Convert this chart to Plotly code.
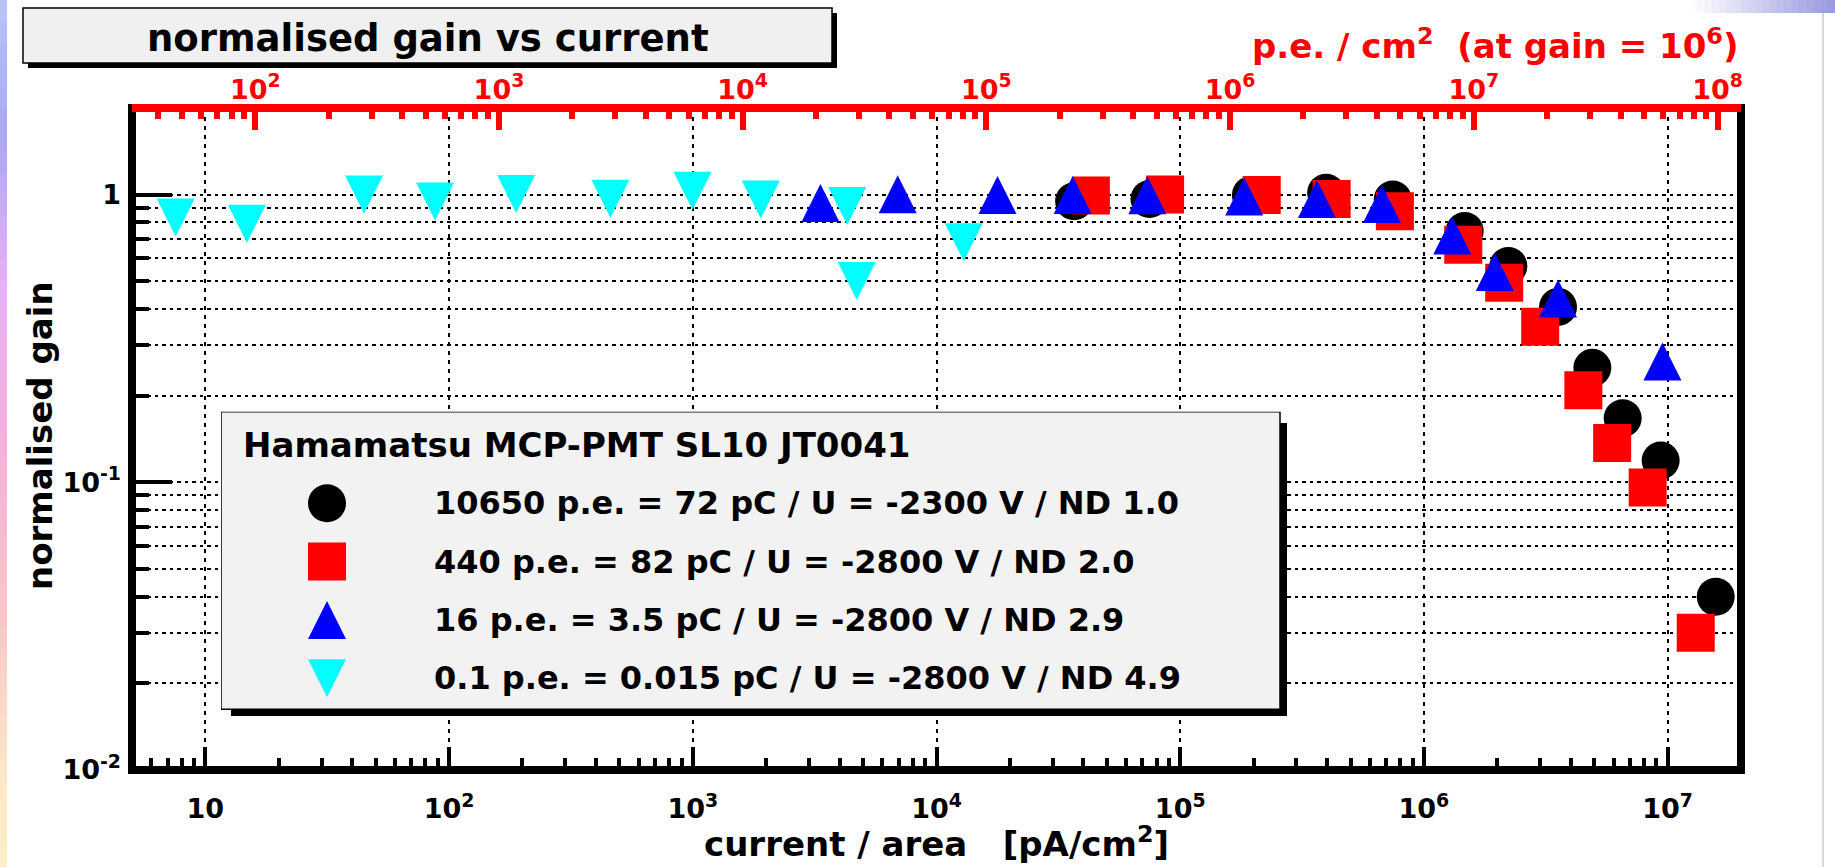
import math
import plotly.graph_objects as go

# ---------------- data ----------------
current_black = [3.67e4, 7.48e4, 1.95e5, 3.97e5, 7.45e5, 1.47e6, 2.22e6, 3.55e6, 4.91e6, 6.54e6, 9.36e6, 1.575e7]
gain_black = [0.948, 0.965, 0.997, 1.015, 0.962, 0.747, 0.565, 0.407, 0.250, 0.167, 0.119, 0.040]

current_red = [4.30e4, 8.67e4, 2.16e5, 4.18e5, 7.60e5, 1.45e6, 2.135e6, 3.00e6, 4.51e6, 5.92e6, 8.28e6, 1.304e7]
gain_red = [0.992, 1.000, 0.997, 0.965, 0.876, 0.669, 0.494, 0.347, 0.209, 0.137, 0.096, 0.030]

current_blue = [3.34e3, 6.93e3, 1.78e4, 3.62e4, 7.33e4, 1.83e5, 3.64e5, 6.72e5, 1.307e6, 1.953e6, 3.55e6, 9.52e6]
gain_blue = [0.935, 1.002, 0.997, 0.996, 0.994, 0.985, 0.965, 0.928, 0.721, 0.538, 0.435, 0.263]

current_cyan = [7.55, 14.8, 44.8, 87.6, 188.5, 459, 997, 1900, 4300, 4706, 12930]
gain_cyan = [0.833, 0.792, 1.000, 0.946, 1.005, 0.967, 1.031, 0.961, 0.913, 0.501, 0.683]

legend_header = "Hamamatsu MCP-PMT SL10 JT0041"
series_labels = [
    "10650 p.e. = 72 pC / U = -2300 V / ND 1.0",
    "440 p.e. = 82 pC / U = -2800 V / ND 2.0",
    "16 p.e. = 3.5 pC / U = -2800 V / ND 2.9",
    "0.1 p.e. = 0.015 pC / U = -2800 V / ND 4.9",
]
series_colors = ["#000000", "#ff0000", "#0000ff", "#00ffff"]
# arrow-up / arrow-down are isosceles triangles with width == height
series_symbols = ["circle", "square", "arrow-up", "arrow-down"]

title_text = "normalised gain vs current"
x_title = "current / area\u00a0\u00a0\u00a0[pA/cm<sup>2</sup>]"
y_title = "normalised gain"
top_title = "p.e. / cm<sup>2</sup>\u00a0\u00a0(at gain = 10<sup>6</sup>)"

X_RANGE = (5.0, 2.0e7)
Y_RANGE = (0.01, 2.0)
PE_PER_PA = 1e-12 / (1e6 * 1.602e-19)   # p.e./cm^2 per pA/cm^2 at gain 1e6

bottom_tickvals = [1e1, 1e2, 1e3, 1e4, 1e5, 1e6, 1e7]
bottom_ticktext = ["10", "10<sup>2</sup>", "10<sup>3</sup>", "10<sup>4</sup>",
                   "10<sup>5</sup>", "10<sup>6</sup>", "10<sup>7</sup>"]
left_tickvals = [0.01, 0.1, 1.0]
left_ticktext = ["10<sup>-2</sup>", "10<sup>-1</sup>", "1"]
top_tickvals = [1e2, 1e3, 1e4, 1e5, 1e6, 1e7, 1e8]
top_ticktext = ["10<sup>2</sup>", "10<sup>3</sup>", "10<sup>4</sup>", "10<sup>5</sup>",
                "10<sup>6</sup>", "10<sup>7</sup>", "10<sup>8</sup>"]

# ---------------- geometry / style ----------------
W, H = 1835, 867
PL, PR, PT, PB = 132, 1741, 108, 770
FONT = "DejaVu Sans"
TICK_FS = 27
TEXT_FS = 34
TITLE_FS = 37
LEG_FS = 32
HDR_FS = 34
MS = 38
TRI = 38


def px_x(px):
    return (px - PL) / (PR - PL)


def px_y(py):
    return (PB - py) / (PB - PT)


lx0, lx1 = math.log10(X_RANGE[0]), math.log10(X_RANGE[1])
ly0, ly1 = math.log10(Y_RANGE[0]), math.log10(Y_RANGE[1])
pe_shift = math.log10(PE_PER_PA)

# plotly arrow markers hang from their point (apex at the value); shift their
# axes so each triangle is centred on its value, as in the ROOT drawing
tri_off_px = TRI / 2
tri_off_dec = tri_off_px * (ly1 - ly0) / (PB - PT)


def minor_vals(lo, hi):
    out = []
    e = math.floor(math.log10(lo))
    while 10 ** e <= hi:
        for m in range(2, 10):
            v = m * 10 ** e
            if lo < v < hi:
                out.append(v)
        e += 1
    return out


x_minor = minor_vals(X_RANGE[0], X_RANGE[1])
y_minor = minor_vals(Y_RANGE[0], Y_RANGE[1])
top_minor = minor_vals(X_RANGE[0] * PE_PER_PA, X_RANGE[1] * PE_PER_PA)

fig = go.Figure()

data = [
    (current_black, gain_black, "y"),
    (current_red, gain_red, "y"),
    (current_blue, gain_blue, "y2"),
    (current_cyan, gain_cyan, "y3"),
]
for i, (xs, ys, yax) in enumerate(data):
    fig.add_trace(go.Scatter(
        x=xs, y=ys, mode="markers", name=series_labels[i], showlegend=False,
        xaxis="x", yaxis=yax,
        marker=dict(symbol=series_symbols[i], color=series_colors[i],
                    size=MS if i < 2 else TRI, line=dict(width=0)),
    ))

# empty trace so that the top (p.e./cm^2) axis gets drawn
fig.add_trace(go.Scatter(x=[], y=[], xaxis="x2", yaxis="y", mode="markers",
                         showlegend=False, hoverinfo="skip"))

# ---------------- legend (own small subplot, pixel units) ----------------
LEG_X0, LEG_X1, LEG_Y0, LEG_Y1 = 221, 1280, 411.7, 709.3
SH_X0, SH_Y0, SH_X1, SH_Y1 = 231, 423, 1287, 716
LEG_ROW0, LEG_DY = 445, 58.3
LEG_SYM_X, LEG_TXT_X, LEG_HDR_X = 327, 432, 241
legend_rows = [LEG_ROW0 + (k + 1) * LEG_DY for k in range(4)]
leg_axes = ["y4", "y4", "y5", "y6"]
for i in range(4):
    fig.add_trace(go.Scatter(
        x=[LEG_SYM_X], y=[legend_rows[i]], mode="markers", showlegend=False,
        xaxis="x3", yaxis=leg_axes[i], hoverinfo="skip",
        marker=dict(symbol=series_symbols[i], color=series_colors[i],
                    size=MS if i < 2 else TRI, line=dict(width=0)),
    ))

shapes = []

# slide background decoration (left gradient strip, top-right band)
stops = [(0.0, (184, 196, 248)), (0.15, (168, 168, 240)), (0.33, (232, 176, 248)),
         (0.5, (244, 176, 220)), (0.7, (248, 196, 200)), (0.9, (252, 232, 200)),
         (1.0, (252, 240, 200))]


def interp(t):
    for (t0, c0), (t1, c1) in zip(stops[:-1], stops[1:]):
        if t0 <= t <= t1:
            f = (t - t0) / (t1 - t0) if t1 > t0 else 0
            return "rgb(%d,%d,%d)" % tuple(round(a + (b - a) * f) for a, b in zip(c0, c1))
    return "rgb(252,240,200)"


NB = 40
for k in range(NB):
    y0 = H * k / NB
    y1 = H * (k + 1) / NB + 1
    shapes.append(dict(type="rect", xref="paper", yref="paper", layer="below",
                       x0=px_x(0), x1=px_x(7), y0=px_y(y1), y1=px_y(y0),
                       fillcolor=interp((k + 0.5) / NB), line=dict(width=0)))
NT = 20
for k in range(NT):
    xa = 1690 + (W - 1690) * k / NT
    xb = 1690 + (W - 1690) * (k + 1) / NT + 1
    f = (k + 0.5) / NT
    col = "rgb(%d,%d,%d)" % (round(255 - 103 * f), round(255 - 103 * f), round(255 - 31 * f))
    shapes.append(dict(type="rect", xref="paper", yref="paper", layer="below",
                       x0=px_x(xa), x1=px_x(xb), y0=px_y(13), y1=px_y(0),
                       fillcolor=col, line=dict(width=0)))
shapes.append(dict(type="line", xref="paper", yref="paper", layer="below",
                   x0=px_x(1823), x1=px_x(1823), y0=px_y(H), y1=px_y(13),
                   line=dict(color="#c8c8e4", width=1.5)))

# title box with shadow
shapes.append(dict(type="rect", xref="paper", yref="paper", layer="above",
                   x0=px_x(28), x1=px_x(837), y0=px_y(68), y1=px_y(13),
                   fillcolor="black", line=dict(width=0)))
shapes.append(dict(type="rect", xref="paper", yref="paper", layer="above",
                   x0=px_x(23), x1=px_x(832), y0=px_y(63), y1=px_y(8),
                   fillcolor="#f0f0f0", line=dict(color="black", width=1.5)))

# legend box with shadow
shapes.append(dict(type="rect", xref="x3", yref="y4", layer="below",
                   x0=SH_X0, x1=SH_X1, y0=SH_Y1, y1=SH_Y0,
                   fillcolor="black", line=dict(width=0)))
shapes.append(dict(type="rect", xref="x3", yref="y4", layer="below",
                   x0=LEG_X0, x1=LEG_X1, y0=LEG_Y1, y1=LEG_Y0,
                   fillcolor="#f2f2f2", line=dict(color="black", width=1.5)))

# frame
shapes.append(dict(type="rect", xref="paper", yref="paper", layer="above",
                   x0=0, x1=1, y0=0, y1=1, fillcolor="rgba(0,0,0,0)",
                   line=dict(color="black", width=8)))
shapes.append(dict(type="line", xref="paper", yref="paper", layer="above",
                   x0=0, x1=1, y0=1, y1=1, line=dict(color="#ff0000", width=8)))

annotations = [
    dict(text=title_text, xref="paper", yref="paper", x=px_x(427.5), y=px_y(38),
         xanchor="center", yanchor="middle", showarrow=False,
         font=dict(size=TITLE_FS, color="black", family=FONT, weight="bold")),
    dict(text=top_title, xref="paper", yref="paper", x=px_x(1740), y=px_y(44),
         xanchor="right", yanchor="middle", showarrow=False,
         font=dict(size=TEXT_FS, color="#ff0000", family=FONT, weight="bold")),
    dict(text=x_title, xref="paper", yref="paper", x=px_x(936), y=px_y(842),
         xanchor="center", yanchor="middle", showarrow=False,
         font=dict(size=TEXT_FS, color="black", family=FONT, weight="bold")),
    dict(text=y_title, xref="paper", yref="paper", x=px_x(40), y=px_y(436),
         xanchor="center", yanchor="middle", showarrow=False, textangle=-90,
         font=dict(size=TEXT_FS, color="black", family=FONT, weight="bold")),
    dict(text=legend_header, xref="x3", yref="y4", x=LEG_HDR_X, y=LEG_ROW0,
         xanchor="left", yanchor="middle", showarrow=False,
         font=dict(size=HDR_FS, color="black", family=FONT, weight="bold")),
]
for i in range(4):
    annotations.append(dict(text=series_labels[i], xref="x3", yref="y4",
                            x=LEG_TXT_X, y=legend_rows[i],
                            xanchor="left", yanchor="middle", showarrow=False,
                            font=dict(size=LEG_FS, color="black", family=FONT, weight="bold")))

grid_common = dict(gridcolor="black", gridwidth=2)

fig.update_layout(
    width=W, height=H, autosize=False,
    margin=dict(l=PL, r=W - PR, t=PT, b=H - PB, pad=0),
    paper_bgcolor="white", plot_bgcolor="white",
    font=dict(family=FONT, weight="bold", color="black"),
    showlegend=False,
    xaxis=dict(type="log", range=[lx0, lx1], domain=[0, 1], anchor="y",
               tickmode="array", tickvals=bottom_tickvals, ticktext=bottom_ticktext,
               ticks="inside", ticklen=23, tickwidth=3.5, tickcolor="black",
               tickfont=dict(size=TICK_FS, color="black", family=FONT, weight="bold"),
               ticklabelstandoff=20,
               showline=False, zeroline=False, showgrid=True, griddash="4px,5px",
               minor=dict(tickmode="array", tickvals=x_minor, ticks="inside",
                          ticklen=12, tickwidth=3.5, tickcolor="black", showgrid=False),
               fixedrange=True, **grid_common),
    yaxis=dict(type="log", range=[ly0, ly1], domain=[0, 1], anchor="x",
               tickmode="array", tickvals=left_tickvals, ticktext=left_ticktext,
               ticks="inside", ticklen=40, tickwidth=3.5, tickcolor="black",
               tickfont=dict(size=TICK_FS, color="black", family=FONT, weight="bold"),
               ticklabelstandoff=10,
               showline=False, zeroline=False, showgrid=True, griddash="3.5px,4px",
               minor=dict(tickmode="array", tickvals=y_minor, ticks="inside",
                          ticklen=17, tickwidth=3.5, tickcolor="black",
                          showgrid=True, gridcolor="black", gridwidth=2,
                          griddash="3.5px,4px"),
               fixedrange=True, **grid_common),
    xaxis2=dict(type="log", range=[lx0 + pe_shift, lx1 + pe_shift], overlaying="x",
                side="top", anchor="y",
                tickmode="array", tickvals=top_tickvals, ticktext=top_ticktext,
                ticks="inside", ticklen=22, tickwidth=6, tickcolor="#ff0000",
                tickfont=dict(size=TICK_FS, color="#ff0000", family=FONT, weight="bold"),
                ticklabelstandoff=3,
                showline=False, zeroline=False, showgrid=False,
                minor=dict(tickmode="array", tickvals=top_minor, ticks="inside",
                           ticklen=11, tickwidth=6, tickcolor="#ff0000", showgrid=False),
                fixedrange=True),
    # arrow-up hangs below its point -> raise it; arrow-down sits above -> lower it
    yaxis2=dict(type="log", range=[ly0 - tri_off_dec, ly1 - tri_off_dec],
                overlaying="y", anchor="x", visible=False, fixedrange=True),
    yaxis3=dict(type="log", range=[ly0 + tri_off_dec, ly1 + tri_off_dec],
                overlaying="y", anchor="x", visible=False, fixedrange=True),
    xaxis3=dict(domain=[px_x(LEG_X0), px_x(SH_X1)], range=[LEG_X0, SH_X1],
                anchor="y4", visible=False, fixedrange=True),
    yaxis4=dict(domain=[px_y(SH_Y1), px_y(LEG_Y0)], range=[SH_Y1, LEG_Y0],
                anchor="x3", visible=False, fixedrange=True),
    yaxis5=dict(range=[SH_Y1 + tri_off_px, LEG_Y0 + tri_off_px], overlaying="y4",
                anchor="x3", visible=False, fixedrange=True),
    yaxis6=dict(range=[SH_Y1 - tri_off_px, LEG_Y0 - tri_off_px], overlaying="y4",
                anchor="x3", visible=False, fixedrange=True),
    shapes=shapes,
    annotations=annotations,
)

fig.write_html("out.html")
